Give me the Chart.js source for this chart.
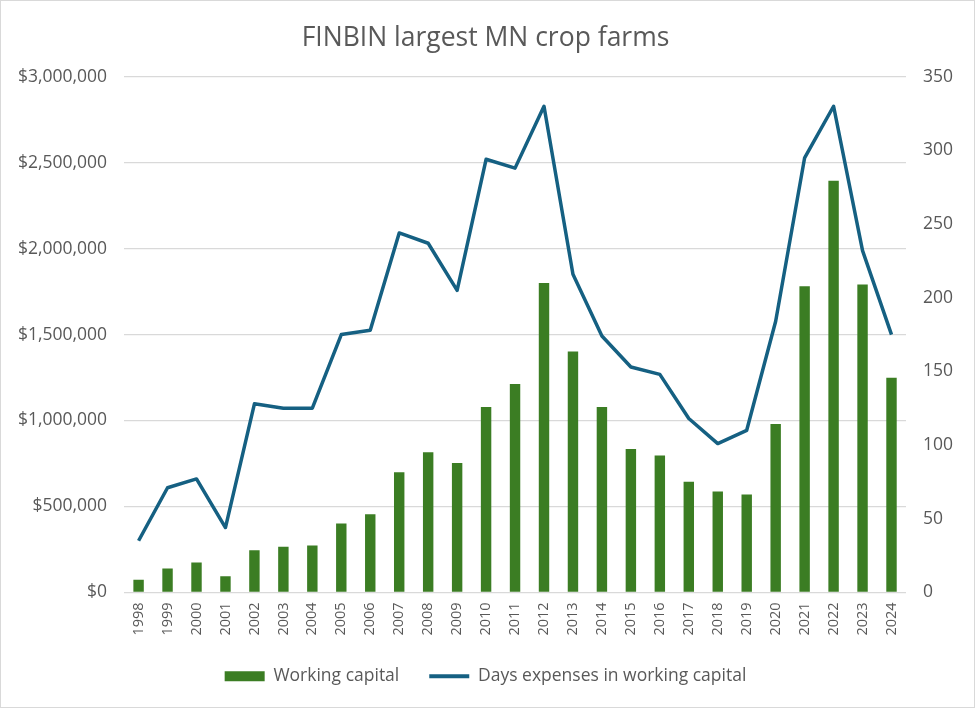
<!DOCTYPE html>
<html>
<head>
<meta charset="utf-8">
<script src="https://cdn.jsdelivr.net/npm/chart.js@4.4.1/dist/chart.umd.min.js"></script>
<style>
    html, body { margin: 0; padding: 0; background: #fff; }
    #wrap {
        width: 975px;
        height: 708px;
        box-sizing: border-box;
        border: 1px solid #d9d9d9;
    }
</style>
</head>
<body>
<div id="wrap"><canvas id="mainChart" width="973" height="706"></canvas></div>
<script>
// Chart data
const years = ['1998', '1999', '2000', '2001', '2002', '2003', '2004', '2005', '2006',
    '2007', '2008', '2009', '2010', '2011', '2012', '2013', '2014', '2015', '2016',
    '2017', '2018', '2019', '2020', '2021', '2022', '2023', '2024'];

// Working capital, dollars (left axis)
const workingCapital = [73000, 139000, 174000, 93000, 245000, 265000, 272000, 400000, 454000,
    699000, 815000, 753000, 1078000, 1213000, 1800000, 1402000, 1078000, 834000, 796000,
    643000, 587000, 570000, 979000, 1781000, 2395000, 1791000, 1248000];

// Days expenses in working capital (right axis)
const daysExpenses = [35, 71, 77, 44, 128, 125, 125, 175, 178,
    244, 237, 205, 294, 288, 330, 216, 174, 153, 148,
    118, 101, 110, 184, 295, 330, 232, 175];

const leftTicks = [0, 500000, 1000000, 1500000, 2000000, 2500000, 3000000];
const rightTicks = [0, 50, 100, 150, 200, 250, 300, 350];

const textColor = '#595959';
const gridColor = '#d9d9d9';
const fontFamily = '"Open Sans", "Liberation Sans", sans-serif';

const ctx = document.getElementById('mainChart');

new Chart(ctx, {
    data: {
        labels: years,
        datasets: [
            {
                type: 'line',
                label: 'Days expenses in working capital',
                data: daysExpenses,
                yAxisID: 'yRight',
                borderColor: '#156082',
                backgroundColor: '#156082',
                borderWidth: 3.5,
                tension: 0,
                pointRadius: 0,
                pointHoverRadius: 0,
                borderJoinStyle: 'round',
                order: 1
            },
            {
                type: 'bar',
                label: 'Working capital',
                data: workingCapital,
                yAxisID: 'yLeft',
                backgroundColor: '#3b7d23',
                borderWidth: 0,
                categoryPercentage: 0.36,
                barPercentage: 1,
                order: 2
            }
        ]
    },
    options: {
        responsive: false,
        animation: false,
        layout: {
            padding: { top: 6, left: 0, right: 4, bottom: 12 }
        },
        plugins: {
            title: {
                display: true,
                text: 'FINBIN largest MN crop farms',
                color: textColor,
                font: { family: fontFamily, size: 26.5, weight: 'normal' },
                padding: { top: 16, bottom: 22 }
            },
            legend: {
                position: 'bottom',
                reverse: true,
                labels: {
                    color: textColor,
                    font: { family: fontFamily, size: 17.5 },
                    usePointStyle: true,
                    pointStyleWidth: 40,
                    boxHeight: 10,
                    padding: 30,
                    generateLabels: function(chart) {
                        const items = Chart.defaults.plugins.legend.labels.generateLabels(chart);
                        items.forEach(item => {
                            const ds = chart.data.datasets[item.datasetIndex];
                            item.pointStyle = ds.type === 'line' ? 'line' : 'rect';
                            if (ds.type === 'line') {
                                item.strokeStyle = ds.borderColor;
                                item.lineWidth = 4;
                            } else {
                                item.lineWidth = 0;
                            }
                        });
                        return items;
                    }
                }
            },
            tooltip: { enabled: false }
        },
        scales: {
            x: {
                grid: { display: false },
                border: { display: false },
                ticks: {
                    color: textColor,
                    font: { family: fontFamily, size: 14.5 },
                    minRotation: 90,
                    maxRotation: 90,
                    autoSkip: false,
                    padding: 2
                }
            },
            yLeft: {
                position: 'left',
                min: 0,
                max: 3000000,
                afterBuildTicks: axis => { axis.ticks = leftTicks.map(v => ({ value: v })); },
                grid: { color: gridColor, lineWidth: 1.3, drawTicks: false },
                border: { display: false },
                ticks: {
                    color: textColor,
                    font: { family: fontFamily, size: 17.5 },
                    padding: 17,
                    callback: value => '$' + value.toLocaleString('en-US')
                }
            },
            yRight: {
                position: 'right',
                min: 0,
                max: 350,
                afterBuildTicks: axis => { axis.ticks = rightTicks.map(v => ({ value: v })); },
                grid: { display: false, drawTicks: false },
                border: { display: false },
                ticks: {
                    color: textColor,
                    font: { family: fontFamily, size: 17.5 },
                    padding: 17
                }
            }
        }
    }
});
</script>
</body>
</html>
